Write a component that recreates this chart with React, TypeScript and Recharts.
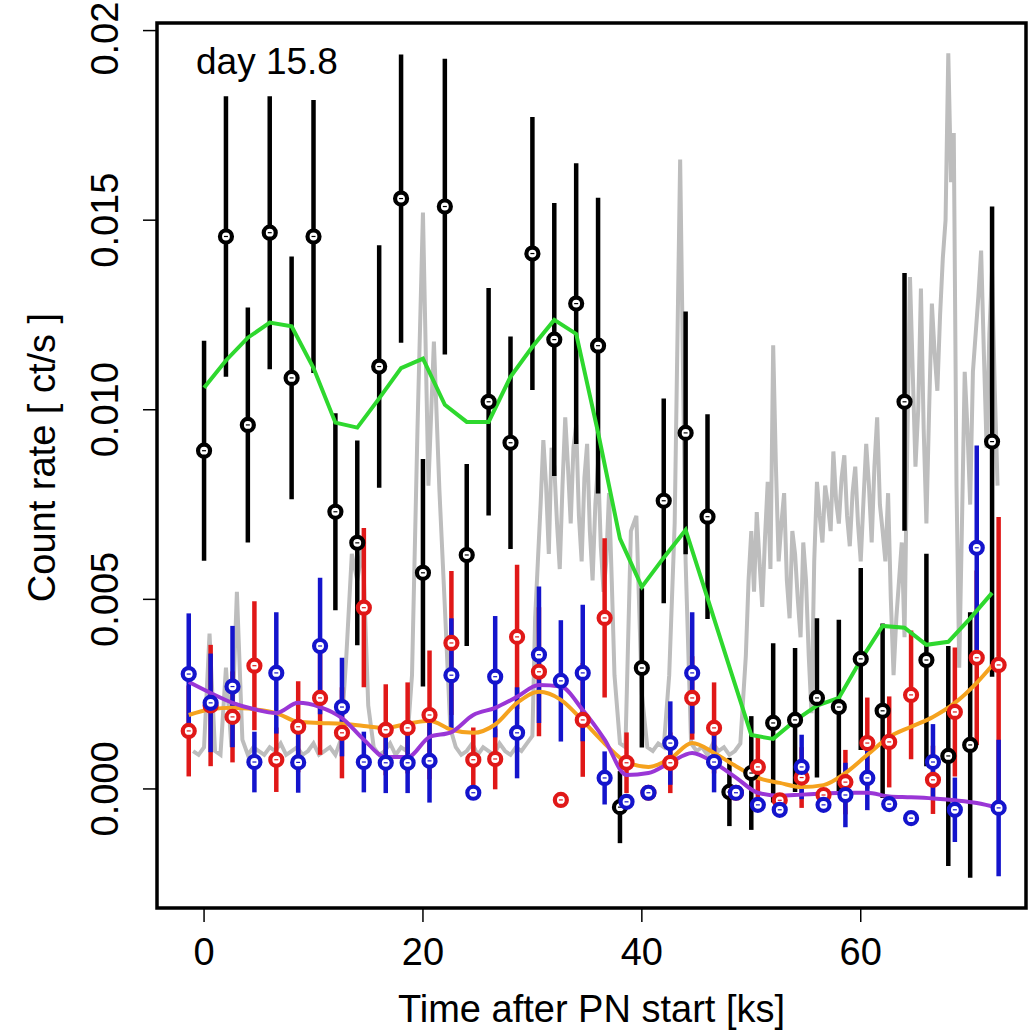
import { ComposedChart, Line, Scatter, ErrorBar, XAxis, YAxis, ReferenceArea, Label } from 'recharts';

// time grids [ks]
const blackTime = [0, 2, 4, 6, 8, 10, 12, 14, 16, 18, 20, 22, 24, 26, 28, 30, 32, 34, 36, 38, 40, 42, 44, 46, 48, 50, 52, 54, 56, 58, 60, 62, 64, 66, 68, 70, 72];
const colorTime = [-1.4, 0.6, 2.6, 4.6, 6.6, 8.6, 10.6, 12.6, 14.6, 16.6, 18.6, 20.6, 22.6, 24.6, 26.6, 28.6, 30.6, 32.6, 34.6, 36.6, 38.6, 40.6, 42.6, 44.6, 46.6, 48.6, 50.6, 52.6, 54.6, 56.6, 58.6, 60.6, 62.6, 64.6, 66.6, 68.6, 70.6, 72.6];

// total band
const blackRate = [0.00892, 0.01457, 0.0096, 0.01467, 0.01084, 0.01457, 0.00731, 0.00649, 0.01114, 0.01557, 0.0057, 0.01536, 0.00617, 0.01021, 0.00913, 0.01412, 0.01185, 0.0128, 0.01169, -0.00048, 0.00319, 0.0076, 0.00939, 0.00718, -0.00008, 0.00042, 0.00174, 0.00182, 0.0024, 0.00216, 0.00343, 0.00206, 0.01021, 0.0034, 0.00087, 0.00116, 0.00916];
const blackErr = [0.0029, 0.0037, 0.0031, 0.0036, 0.0032, 0.0036, 0.0026, 0.0027, 0.0032, 0.0038, 0.003, 0.0039, 0.0024, 0.003, 0.0028, 0.0036, 0.0036, 0.0037, 0.0039, 0.00095, 0.0021, 0.0027, 0.0032, 0.0027, 0.0009, 0.0015, 0.0021, 0.0019, 0.0021, 0.0023, 0.0024, 0.0023, 0.0034, 0.0028, 0.0029, 0.0035, 0.0062];
const greenSmooth = [0.01058, 0.0113, 0.0119, 0.0123, 0.0122, 0.0111, 0.00966, 0.00953, 0.0103, 0.0111, 0.01135, 0.01013, 0.00968, 0.00968, 0.01087, 0.01166, 0.01237, 0.012, 0.0094, 0.0066, 0.00533, 0.0061, 0.00683, 0.00503, 0.00322, 0.00142, 0.00132, 0.0018, 0.0022, 0.0024, 0.0034, 0.0043, 0.00425, 0.0038, 0.00388, 0.0045, 0.00517];

// red band
const redRate = [0.00153, 0.0022, 0.0019, 0.00325, 0.00077, 0.00164, 0.0024, 0.00148, 0.00478, 0.00156, 0.00161, 0.00195, 0.00385, 0.00077, 0.00079, 0.00401, 0.00309, -0.00029, 0.00182, 0.00451, 0.00069, -0.0001, 0.00069, 0.0024, 0.00161, -0.0001, 0.00058, -0.0003, 0.0003, -0.00016, 0.00018, 0.00121, 0.00124, 0.00248, 0.00024, 0.00203, 0.00346, 0.00327];
const redErr = [0.0012, 0.0016, 0.0012, 0.0017, 0.00085, 0.0012, 0.0015, 0.0012, 0.0021, 0.0012, 0.0012, 0.0017, 0.0019, 0.00085, 0.0008, 0.0019, 0.0017, 0, 0.0015, 0.0021, 0.0008, 0, 0.0008, 0.0011, 0.0012, 0, 0.0008, 0, 0.0008, 0, 0.00085, 0.0012, 0.0012, 0.0017, 0.0009, 0.0017, 0.0023, 0.0039];
const orangeSmooth = [0.00195, 0.0021, 0.00214, 0.0021, 0.002, 0.00177, 0.00174, 0.00172, 0.00166, 0.00161, 0.00172, 0.0018, 0.00156, 0.00148, 0.0017, 0.00227, 0.00256, 0.00235, 0.0018, 0.0012, 0.00071, 0.00058, 0.0008, 0.00121, 0.00095, 0.0006, 0.00029, 0.00016, 0.00005, 0.0001, 0.00042, 0.0009, 0.00137, 0.00164, 0.0019, 0.00227, 0.0028, 0.00346];

// blue band
const blueRate = [0.00303, 0.00227, 0.0027, 0.00071, 0.00306, 0.0007, 0.00377, 0.00216, 0.00071, 0.00069, 0.00069, 0.00074, 0.003, -0.0001, 0.00296, 0.00148, 0.00354, 0.00285, 0.00306, 0.00029, -0.00034, -0.0001, 0.00121, 0.00306, 0.00071, -0.0001, -0.00042, -0.00055, 0.00058, -0.00042, -0.00016, 0.00029, -0.0004, -0.00077, 0.00071, -0.00055, 0.00636, -0.0005];
const blueErr = [0.0016, 0.0013, 0.0016, 0.0008, 0.0016, 0.0008, 0.0018, 0.0013, 0.0008, 0.0008, 0.0008, 0.0011, 0.0015, 0, 0.0016, 0.0012, 0.0018, 0.0016, 0.0018, 0.0007, 0, 0, 0.0011, 0.0016, 0.0008, 0, 0, 0, 0.00085, 0, 0.00085, 0.00085, 0, 0, 0.001, 0.00085, 0.0027, 0.0018];
const purpleSmooth = [0.00282, 0.00253, 0.00227, 0.0021, 0.002, 0.00227, 0.00216, 0.00187, 0.0013, 0.00084, 0.00084, 0.00137, 0.0015, 0.00195, 0.00214, 0.00243, 0.00274, 0.0027, 0.00208, 0.0013, 0.00037, 0.00042, 0.0007, 0.00095, 0.00069, 0.0003, -0.0001, -0.00018, -0.00015, -0.00012, -0.0001, -0.0001, -0.0002, -0.00022, -0.00025, -0.0003, -0.00037, -0.0005];

// background light curve, 0.5 ks bins from -1 ks
const greyStart = -1;
const greyStep = 0.5;
const greyRate = [
  0.001, 0.0009, 0.0011, 0.0041, 0.001, 0.0009, 0.0032, 0.0011, 0.0052, 0.0013,
  0.0009, 0.0011, 0.001, 0.0009, 0.0011, 0.001, 0.0012, 0.0009, 0.001, 0.0011,
  0.0009, 0.001, 0.0012, 0.0009, 0.001, 0.0011, 0.0009, 0.0013, 0.0035, 0.0062,
  0.0055, 0.0064, 0.0022, 0.0011, 0.0009, 0.001, 0.0012, 0.0009, 0.0011, 0.001,
  0.003, 0.0095, 0.0152, 0.008, 0.0118, 0.0079, 0.0048, 0.0016, 0.0011, 0.0009,
  0.001, 0.0012, 0.0009, 0.0011, 0.001, 0.0009, 0.0012, 0.001, 0.0009, 0.0011,
  0.001, 0.0012, 0.0014, 0.006, 0.0092, 0.0062, 0.0085, 0.0058, 0.0098, 0.007,
  0.0096, 0.006, 0.0091, 0.0055, 0.0086, 0.0052, 0.0078, 0.003, 0.0012, 0.0011,
  0.0068, 0.0072, 0.0025, 0.0011, 0.001, 0.0012, 0.0011, 0.003, 0.007, 0.0166,
  0.006, 0.0012, 0.001, 0.0011, 0.0009, 0.0012, 0.001, 0.0011, 0.0009, 0.001,
  0.0012, 0.0035, 0.0068, 0.0073, 0.0048, 0.0081, 0.0117, 0.006, 0.0078, 0.0045,
  0.0062, 0.004, 0.0055, 0.002, 0.0081, 0.0065, 0.0075, 0.0089, 0.007, 0.0088,
  0.0064, 0.0085, 0.006, 0.0091, 0.0065, 0.0098, 0.0068, 0.0078, 0.003, 0.0055,
  0.004, 0.0135, 0.0085, 0.0132, 0.007, 0.0128, 0.0105, 0.014, 0.0194, 0.0173,
  0.0032, 0.011, 0.0075, 0.012, 0.0142, 0.009, 0.0137, 0.008,
];
// extra in-between bins where the curve is busy
const greyMidAStart = 29.75;
const greyMidA = [0.0013, 0.0045, 0.0075, 0.008, 0.009, 0.007, 0.008, 0.0085, 0.009, 0.0072, 0.0082, 0.0068, 0.0075, 0.0064, 0.006, 0.0055];
const greyMidBStart = 49.75;
const greyMidB = [
  0.0055, 0.0052, 0.006, 0.0066, 0.0058, 0.0085, 0.007, 0.0055, 0.0068, 0.005,
  0.0065, 0.0035, 0.006, 0.0072, 0.008, 0.0068, 0.0076, 0.0082, 0.0072, 0.0078,
  0.007, 0.0076, 0.008, 0.0085, 0.0075, 0.006, 0.005, 0.0045, 0.0065, 0.009,
  0.011, 0.01, 0.0095, 0.01, 0.0115, 0.0125, 0.015, 0.016, 0.008, 0.007,
  0.0095, 0.011, 0.013, 0.0115, 0.012, 0.0105,
];

const xTicks = [0, 20, 40, 60];
const yTicks = [0, 0.005, 0.01, 0.015, 0.02];

const toPts = (xs: number[], ys: number[], errs?: number[]) =>
  xs.map((x, i) => ({ x, y: ys[i], err: errs ? errs[i] : 0 }));

const greyData = [
  ...greyRate.map((y, i) => ({ x: greyStart + i * greyStep, y })),
  ...greyMidA.map((y, i) => ({ x: greyMidAStart + i * greyStep, y })),
  ...greyMidB.map((y, i) => ({ x: greyMidBStart + i * greyStep, y })),
].sort((a, b) => a.x - b.x);
const blackData = toPts(blackTime, blackRate, blackErr);
const redData = toPts(colorTime, redRate, redErr);
const blueData = toPts(colorTime, blueRate, blueErr);
const greenData = toPts(blackTime, greenSmooth);
const orangeData = toPts(colorTime, orangeSmooth);
const purpleData = toPts(colorTime, purpleSmooth);

const FONT = '"Liberation Sans", Arial, Helvetica, sans-serif';
const XMIN = -4.3, XMAX = 75.1, YMIN = -0.00314, YMAX = 0.0202;

const ring = (color: string) => (props: any) => {
  const { cx, cy } = props;
  if (cx == null || cy == null) return <g />;
  return (
    <g>
      <circle cx={cx} cy={cy} r={6} fill="#fff" stroke={color} strokeWidth={4.2} />
      <line x1={cx - 2} x2={cx + 2} y1={cy} y2={cy} stroke={color} strokeWidth={1.2} />
    </g>
  );
};

const XTick = (props: any) => {
  const { x, y, payload } = props;
  return (
    <text x={x} y={y + 41} textAnchor="middle" fontSize={38} fontFamily={FONT} fill="#000">
      {payload.value}
    </text>
  );
};

const YTick = (props: any) => {
  const { x, y, payload } = props;
  const v = payload.value;
  const txt = v === 0.02 ? '0.02' : v.toFixed(3);
  const bx = x - 23;
  const by = v === 0.02 ? y + 8 : y; // keep the top label inside the page
  return (
    <text x={bx} y={by} transform={`rotate(-90, ${bx}, ${by})`} textAnchor="middle" fontSize={38} fontFamily={FONT} fill="#000">
      {txt}
    </text>
  );
};

const XTitle = (props: any) => {
  const vb = props.viewBox || { x: 157, y: 908, width: 869, height: 125 };
  return (
    <text x={vb.x + vb.width / 2} y={vb.y + 114} textAnchor="middle" fontSize={38} fontFamily={FONT} fill="#000">
      Time after PN start [ks]
    </text>
  );
};

const YTitle = (props: any) => {
  const vb = props.viewBox || { x: 0, y: 23, width: 157, height: 885 };
  const cx = vb.x + 55;
  const cy = vb.y + vb.height / 2 - 8;
  return (
    <text x={cx} y={cy} transform={`rotate(-90, ${cx}, ${cy})`} textAnchor="middle" fontSize={38} fontFamily={FONT} fill="#000">
      Count rate [ ct/s ]
    </text>
  );
};

export default function App() {
  return (
    <div style={{ position: 'absolute', left: 0, top: 0, width: 1028, height: 1033, background: '#fff' }}>
      <ComposedChart width={1028} height={1033} margin={{ top: 23, right: 2, bottom: 0, left: 0 }}>
        <XAxis
          type="number"
          dataKey="x"
          domain={[XMIN, XMAX]}
          allowDataOverflow
          ticks={xTicks}
          tick={<XTick />}
          tickSize={14}
          tickLine={{ stroke: '#000', strokeWidth: 1.5 }}
          axisLine={false}
          height={125}
        >
          <Label content={<XTitle />} />
        </XAxis>
        <YAxis
          type="number"
          dataKey="y"
          domain={[YMIN, YMAX]}
          allowDataOverflow
          ticks={yTicks}
          tick={<YTick />}
          tickSize={14}
          tickLine={{ stroke: '#000', strokeWidth: 1.5 }}
          axisLine={false}
          width={157}
        >
          <Label content={<YTitle />} />
        </YAxis>

        <Line data={greyData} dataKey="y" type="linear" stroke="#bdbdbd" strokeWidth={4} dot={false} activeDot={false} isAnimationActive={false} />

        <Scatter data={blackData} dataKey="y" fill="#000" shape={ring('#000')} isAnimationActive={false}>
          <ErrorBar dataKey="err" direction="y" width={0} stroke="#000" strokeWidth={4.5} isAnimationActive={false} />
        </Scatter>
        <Scatter data={redData} dataKey="y" fill="#e01818" shape={ring('#e01818')} isAnimationActive={false}>
          <ErrorBar dataKey="err" direction="y" width={0} stroke="#e01818" strokeWidth={4.5} isAnimationActive={false} />
        </Scatter>
        <Scatter data={blueData} dataKey="y" fill="#1414cc" shape={ring('#1414cc')} isAnimationActive={false}>
          <ErrorBar dataKey="err" direction="y" width={0} stroke="#1414cc" strokeWidth={4.5} isAnimationActive={false} />
        </Scatter>

        <Line data={greenData} dataKey="y" type="linear" stroke="#2ed82e" strokeWidth={4} dot={false} activeDot={false} isAnimationActive={false} />
        <Line data={orangeData} dataKey="y" type="monotone" stroke="#f5a21e" strokeWidth={4} dot={false} activeDot={false} isAnimationActive={false} />
        <Line data={purpleData} dataKey="y" type="monotone" stroke="#9a36d6" strokeWidth={4} dot={false} activeDot={false} isAnimationActive={false} />

        <ReferenceArea x1={XMIN} x2={XMAX} y1={YMIN} y2={YMAX} fill="none" fillOpacity={0} stroke="#000" strokeWidth={3.5} ifOverflow="visible" />
      </ComposedChart>
      <div style={{ position: 'absolute', left: 196, top: 40, fontFamily: FONT, fontSize: 37, lineHeight: '44px', color: '#000' }}>
        day 15.8
      </div>
    </div>
  );
}
